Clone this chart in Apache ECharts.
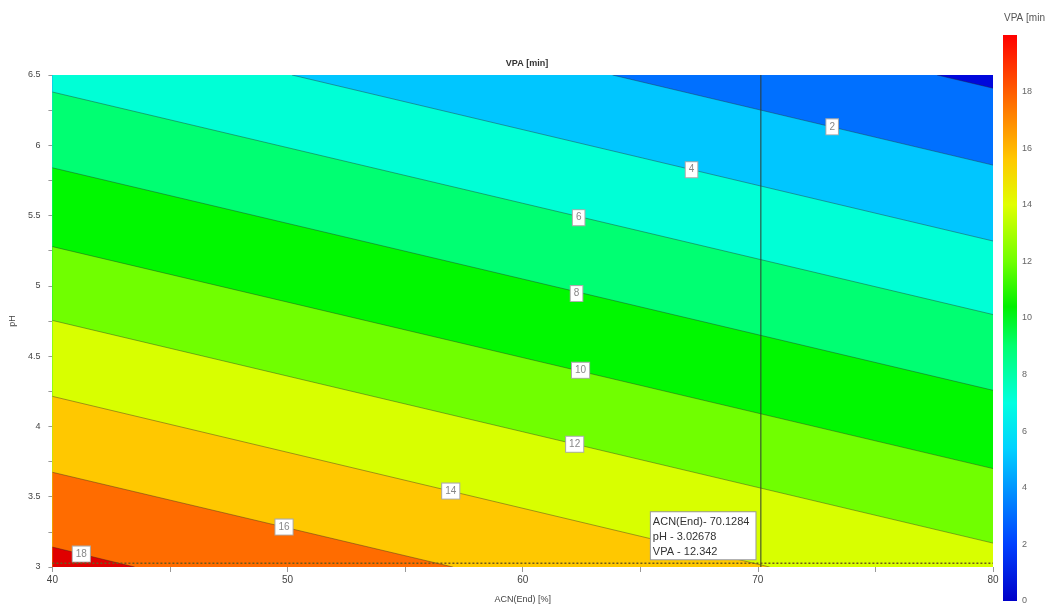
<!DOCTYPE html>
<html>
<head>
<meta charset="utf-8">
<script src="https://cdn.jsdelivr.net/npm/echarts@6/dist/echarts.min.js"></script>
<style>
html,body{margin:0;padding:0;background:#fff;}
#chart{width:1045px;height:609px;}
</style>
</head>
<body>
<div id="chart"></div>
<script>
// ---------------- DATA ----------------
const xRange = [40, 80];          // ACN(End) [%]
const yRange = [3, 6.5];          // pH
const contourLevels = [0, 2, 4, 6, 8, 10, 12, 14, 16, 18];
// contour lines as [ACN, pH] points, same order as contourLevels
const contourPaths = [
  [[77.62, 6.5], [80, 6.406]],
  [[63.82, 6.5], [80, 5.859]],
  [[50.19, 6.5], [80, 5.319]],
  [[40, 6.379], [80, 4.796]],
  [[40, 5.840], [80, 4.257]],
  [[40, 5.279], [80, 3.700]],
  [[40, 4.754], [80, 3.170]],
  [[40, 4.214], [70.5, 3]],
  [[40, 3.674], [57.03, 3]],
  [[40, 3.142], [43.5, 3]]
];
// contour label positions [ACN, pH, level]
const contourLabels = [
  [73.16, 6.131, 2], [67.18, 5.826, 4], [62.38, 5.485, 6], [62.29, 4.945, 8],
  [62.46, 4.399, 10], [62.21, 3.873, 12], [56.94, 3.540, 14], [49.85, 3.284, 16],
  [41.23, 3.092, 18]
];
const cursorPoint = [70.1284, 3.02678];
const cursorVPA = 12.342;
const colorbarRange = [0, 20];
const colorbarTicks = [0, 2, 4, 6, 8, 10, 12, 14, 16, 18];

// ---------------- STYLE ----------------
const baseColor = '#0008dc';  // below lowest level
const bandColors = ['#0070ff', '#00c6ff', '#00ffd6', '#00ff72', '#00f800',
                    '#70ff00', '#d8ff00', '#ffc800', '#ff6c00', '#e00000'];
const font = 'Liberation Sans, Arial, sans-serif';
const jetStops = [
  [0, '#0000c8'], [0.1, '#0040ff'], [0.2, '#0096ff'], [0.27, '#00d2ff'],
  [0.35, '#00ffe0'], [0.45, '#00ff70'], [0.52, '#00f000'], [0.6, '#70ff00'],
  [0.7, '#e0ff00'], [0.78, '#ffc800'], [0.87, '#ff7800'], [1, '#ff0000']
];

function regionAbove(path) {
  const pts = path.slice();
  const s = pts[0], e = pts[pts.length - 1];
  if (e[0] >= xRange[1] && e[1] > yRange[0]) pts.push([xRange[1], yRange[0]]);
  pts.push([xRange[0], yRange[0]]);
  if (s[1] >= yRange[1] && s[0] > xRange[0]) pts.push([xRange[0], yRange[1]]);
  return pts;
}

const chart = echarts.init(document.getElementById('chart'), null, {renderer: 'canvas'});

const option = {
  animation: false,
  backgroundColor: '#fff',
  textStyle: {fontFamily: font},
  title: {
    text: 'VPA [min]', left: 522, top: 54, textAlign: 'center',
    textStyle: {fontSize: 9, fontWeight: 'bold', color: '#333', fontFamily: font}
  },
  graphic: [{
    type: 'text', left: 1004, top: 13,
    style: {text: 'VPA [min]', fontSize: 10, fill: '#555', fontFamily: font}
  }],
  grid: [
    {left: 51, top: 75, width: 942, height: 493},
    {left: 1003, top: 35, width: 14, height: 566}
  ],
  xAxis: [
    {
      gridIndex: 0, type: 'value', min: xRange[0], max: xRange[1], interval: 10,
      name: 'ACN(End) [%]', nameLocation: 'middle', nameGap: 28,
      nameTextStyle: {fontSize: 9, color: '#444'},
      axisLine: {show: false},
      axisTick: {show: true, length: 5, lineStyle: {color: '#999'}},
      minorTick: {show: true, splitNumber: 2, length: 5, lineStyle: {color: '#999'}},
      axisLabel: {fontSize: 10, color: '#444', margin: 8},
      splitLine: {show: false}
    },
    {gridIndex: 1, type: 'value', min: 0, max: 1, show: false}
  ],
  yAxis: [
    {
      gridIndex: 0, type: 'value', min: yRange[0], max: yRange[1], interval: 0.5,
      name: 'pH', nameLocation: 'middle', nameGap: 34, nameRotate: 90,
      nameTextStyle: {fontSize: 9, color: '#444'},
      axisLine: {show: false},
      axisTick: {show: true, length: 4, lineStyle: {color: '#999'}},
      minorTick: {show: true, splitNumber: 2, length: 4, lineStyle: {color: '#999'}},
      axisLabel: {fontSize: 9, color: '#444', margin: 12},
      splitLine: {show: false}
    },
    {
      gridIndex: 1, type: 'value', min: colorbarRange[0], max: colorbarRange[1], interval: 2,
      position: 'right',
      axisLine: {show: false}, axisTick: {show: false}, splitLine: {show: false},
      axisLabel: {
        fontSize: 9, color: '#666', margin: 5,
        formatter: v => colorbarTicks.indexOf(v) >= 0 ? String(v) : ''
      }
    }
  ],
  series: [
    {
      type: 'custom', xAxisIndex: 0, yAxisIndex: 0, silent: true, clip: true,
      data: [-1].concat(contourLevels.map((l, i) => i)),
      renderItem: function (params, api) {
        const i = api.value(0);
        let pts;
        let fill;
        if (i < 0) {
          pts = [[xRange[0], yRange[0]], [xRange[1], yRange[0]], [xRange[1], yRange[1]], [xRange[0], yRange[1]]];
          fill = baseColor;
        } else {
          pts = regionAbove(contourPaths[i]);
          fill = bandColors[i];
        }
        const children = [{
          type: 'polygon',
          shape: {points: pts.map(p => api.coord(p))},
          style: {fill: fill}
        }];
        if (i >= 0) {
          children.push({
            type: 'polyline',
            shape: {points: contourPaths[i].map(p => api.coord(p))},
            style: {stroke: 'rgba(40,40,40,0.4)', lineWidth: 1, fill: null}
          });
        }
        return {type: 'group', children: children};
      }
    },
    {
      // cursor vertical line
      type: 'line', xAxisIndex: 0, yAxisIndex: 0, silent: true, symbol: 'none',
      data: [[cursorPoint[0], yRange[0]], [cursorPoint[0], yRange[1]]],
      lineStyle: {color: '#2f3a2f', width: 1}
    },
    {
      // cursor horizontal line
      type: 'line', xAxisIndex: 0, yAxisIndex: 0, silent: true, symbol: 'none',
      data: [[xRange[0], cursorPoint[1]], [xRange[1], cursorPoint[1]]],
      lineStyle: {color: '#6a5a20', width: 1.5, type: [2, 2]}
    },
    {
      type: 'scatter', xAxisIndex: 0, yAxisIndex: 0, silent: true, symbolSize: 0,
      itemStyle: {opacity: 1},
      data: contourLabels,
      label: {
        show: true, position: 'inside', formatter: p => String(p.value[2]),
        fontSize: 10, color: '#888', backgroundColor: '#fff',
        borderColor: '#aaa', borderWidth: 1, padding: [3, 3, 2, 3]
      }
    },
    {
      type: 'scatter', xAxisIndex: 0, yAxisIndex: 0, silent: true, symbolSize: 0,
      itemStyle: {opacity: 1},
      data: [cursorPoint],
      label: {
        show: true, position: [-110, -51], align: 'left', verticalAlign: 'top',
        formatter: 'ACN(End)- ' + cursorPoint[0] + '\npH - ' + cursorPoint[1] + '\nVPA - ' + cursorVPA,
        fontSize: 11, lineHeight: 15, color: '#333', backgroundColor: '#fff',
        borderColor: '#999', borderWidth: 1, padding: [2, 6, 0, 2]
      }
    },
    {
      // colour bar
      type: 'custom', xAxisIndex: 1, yAxisIndex: 1, silent: true,
      data: [[0, colorbarRange[0], 1, colorbarRange[1]]],
      renderItem: function (params, api) {
        const p0 = api.coord([api.value(0), api.value(1)]);
        const p1 = api.coord([api.value(2), api.value(3)]);
        return {
          type: 'rect',
          shape: {x: p0[0], y: p1[1], width: p1[0] - p0[0], height: p0[1] - p1[1]},
          style: {
            fill: new echarts.graphic.LinearGradient(0, 1, 0, 0,
              jetStops.map(s => ({offset: s[0], color: s[1]})))
          }
        };
      }
    }
  ]
};
chart.setOption(option);
</script>
</body>
</html>
